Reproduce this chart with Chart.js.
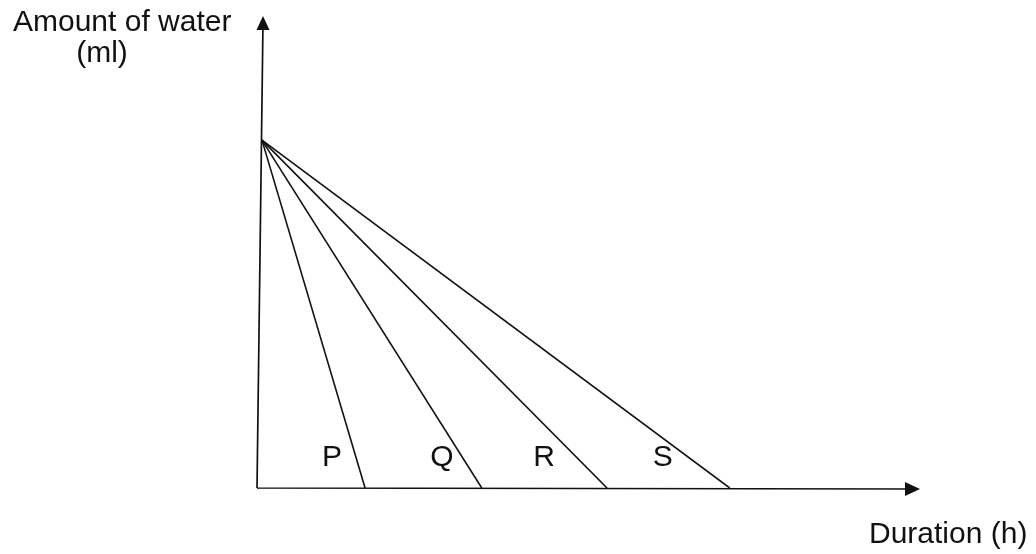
<!DOCTYPE html>
<html>
<head>
<meta charset="utf-8">
<script src="https://cdn.jsdelivr.net/npm/chart.js@4"></script>
<style>
  html, body { margin: 0; padding: 0; background: #fff; }
  #wrap { width: 1036px; height: 554px; position: relative; }
</style>
</head>
<body>
<div id="wrap"><canvas id="c"></canvas></div>
<script>
// ---- data ----
const categories = ['P', 'Q', 'R', 'S'];
const startDuration = 0.75;      // all lines start at the same point
const startAmount = 73.7;
const endDuration = [16.3, 33.9, 52.8, 71.3];   // where each line reaches zero
const labelDuration = [11.3, 27.9, 43.3, 61.2];  // where the letters sit
const labelAmount = 6.5;
const xTitle = 'Duration (h)';
const yTitle = ['Amount of water', '(ml)'];

const datasets = categories.map((c, i) => ({
  label: c,
  data: [{ x: startDuration, y: startAmount }, { x: endDuration[i], y: 0 }],
  borderColor: '#111',
  borderWidth: 1.6,
  pointRadius: 0,
  showLine: true,
  fill: false
}));

const FONT = '30px "Liberation Sans", Arial, sans-serif';

const decor = {
  id: 'decor',
  afterDatasetsDraw(chart) {
    const ctx = chart.ctx;
    const xs = chart.scales.x, ys = chart.scales.y;
    const x0 = xs.getPixelForValue(0), y0 = ys.getPixelForValue(0);
    const xEnd = xs.getPixelForValue(xs.max), yEnd = ys.getPixelForValue(ys.max);
    ctx.save();
    ctx.strokeStyle = '#111';
    ctx.fillStyle = '#111';
    ctx.lineWidth = 1.7;
    // axes
    ctx.beginPath();
    ctx.moveTo(x0, y0); ctx.lineTo(xEnd - 6, y0 + 1);
    ctx.moveTo(x0, y0); ctx.lineTo(x0 + 6, yEnd + 6);
    ctx.stroke();
    // arrowheads
    ctx.beginPath();
    ctx.moveTo(xEnd, y0 + 1); ctx.lineTo(xEnd - 15, y0 + 1 - 7); ctx.lineTo(xEnd - 15, y0 + 1 + 7); ctx.closePath();
    ctx.fill();
    ctx.beginPath();
    ctx.moveTo(x0 + 6, yEnd); ctx.lineTo(x0 - 0.5, yEnd + 14); ctx.lineTo(x0 + 12.5, yEnd + 14); ctx.closePath();
    ctx.fill();
    // letters
    ctx.font = FONT;
    ctx.textAlign = 'center';
    ctx.textBaseline = 'middle';
    categories.forEach((c, i) => {
      ctx.fillText(c, xs.getPixelForValue(labelDuration[i]), ys.getPixelForValue(labelAmount));
    });
    // axis titles
    ctx.textBaseline = 'alphabetic';
    ctx.textAlign = 'left';
    ctx.fillText(yTitle[0], 13, 31);
    ctx.textAlign = 'center';
    ctx.fillText(yTitle[1], 102, 62);
    ctx.textAlign = 'left';
    ctx.fillText(xTitle, 869, 543);
    ctx.restore();
  }
};

new Chart(document.getElementById('c'), {
  type: 'scatter',
  data: { datasets },
  options: {
    responsive: true,
    maintainAspectRatio: false,
    animation: false,
    layout: { padding: { left: 257, right: 116, top: 16, bottom: 66 } },
    plugins: { legend: { display: false }, tooltip: { enabled: false } },
    scales: {
      x: { type: 'linear', min: 0, max: 100, display: false },
      y: { type: 'linear', min: 0, max: 100, display: false }
    }
  },
  plugins: [decor]
});
</script>
</body>
</html>
